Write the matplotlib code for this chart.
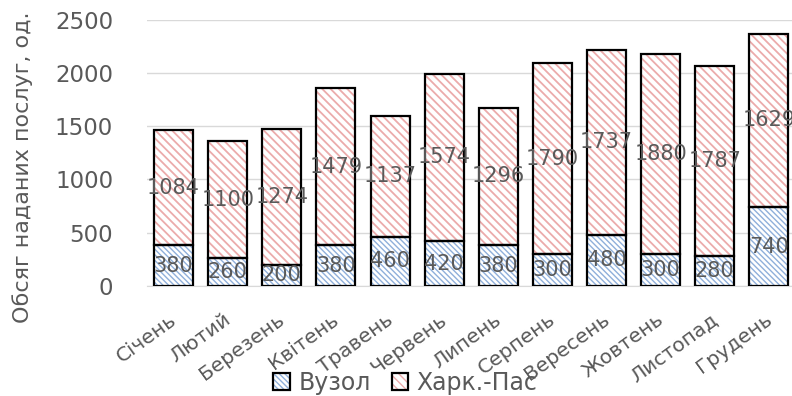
import matplotlib
matplotlib.use("Agg")
import matplotlib.pyplot as plt
from matplotlib.patches import Patch
from matplotlib.legend_handler import HandlerTuple
from matplotlib.transforms import ScaledTranslation
import numpy as np

months = ["Січень", "Лютий", "Березень", "Квітень", "Травень", "Червень",
          "Липень", "Серпень", "Вересень", "Жовтень", "Листопад", "Грудень"]
vuzol = [380, 260, 200, 380, 460, 420, 380, 300, 480, 300, 280, 740]
kharkpas = [1084, 1100, 1274, 1479, 1137, 1574, 1296, 1790, 1737, 1880, 1787, 1629]
yticks = [0, 500, 1000, 1500, 2000, 2500]

plt.rcParams["font.family"] = ["DejaVu Sans"]

fig = plt.figure(figsize=(7.92, 3.96), dpi=100)
ax = fig.add_axes([0.185, 0.278, 0.82, 0.672])

x = np.arange(len(months))
w = 0.72
blue_h = "#8FAFDA"
red_h = "#EBABAB"
txt = "#595959"
blue_pat = "\\\\\\\\\\\\"
red_pat = "\\\\\\\\"
blue_lw = 1.0
red_lw = 1.3

# hatched fills (hatch colour follows edgecolor), then black outlines on top
with plt.rc_context({"hatch.linewidth": blue_lw}):
    ax.bar(x, vuzol, w, color="white", edgecolor=blue_h, hatch=blue_pat, linewidth=0, zorder=2)
with plt.rc_context({"hatch.linewidth": red_lw}):
    ax.bar(x, kharkpas, w, bottom=vuzol, color="white", edgecolor=red_h, hatch=red_pat,
           linewidth=0, zorder=2)
ax.bar(x, vuzol, w, fill=False, edgecolor="black", linewidth=1.6, zorder=3)
ax.bar(x, kharkpas, w, bottom=vuzol, fill=False, edgecolor="black", linewidth=1.6, zorder=3)

for xi, v, k in zip(x, vuzol, kharkpas):
    ax.text(xi, v / 2, str(v), ha="center", va="center", fontsize=15, color=txt, zorder=4)
    ax.text(xi, v + k / 2, str(k), ha="center", va="center", fontsize=15, color=txt, zorder=4)

ax.set_xlim(-0.5, len(months) - 0.5)
ax.set_ylim(0, 2500)
ax.set_yticks(yticks)
ax.set_yticklabels([str(t) for t in yticks], fontsize=16.5, color=txt)
ax.yaxis.grid(True, color="#D9D9D9", linewidth=1)
ax.set_axisbelow(True)
for s in ["top", "right", "left"]:
    ax.spines[s].set_visible(False)
ax.spines["bottom"].set_color("#D9D9D9")
ax.tick_params(axis="y", length=0, pad=24)
ax.tick_params(axis="x", length=0, pad=26)
ax.set_xticks(x)
ax.set_xticklabels(months, rotation=36, ha="right", va="baseline", rotation_mode="anchor",
                   fontsize=14.5, color=txt)
shift = ScaledTranslation(4 / 100, 0, fig.dpi_scale_trans)
for lbl in ax.get_xticklabels():
    lbl.set_transform(lbl.get_transform() + shift)

fig.text(0.028, 0.578, "Обсяг наданих послуг, од.", rotation=90, ha="center",
         va="center", fontsize=16, color=txt)

with plt.rc_context({"hatch.linewidth": blue_lw}):
    h_blue = Patch(facecolor="white", edgecolor=blue_h, hatch=blue_pat, linewidth=0)
with plt.rc_context({"hatch.linewidth": red_lw}):
    h_red = Patch(facecolor="white", edgecolor=red_h, hatch=red_pat, linewidth=0)
outline1 = Patch(fill=False, edgecolor="black", linewidth=1.6)
outline2 = Patch(fill=False, edgecolor="black", linewidth=1.6)
leg = fig.legend([(h_blue, outline1), (h_red, outline2)], ["Вузол", "Харк.-Пас"],
                 handler_map={tuple: HandlerTuple(ndivide=1, pad=0)},
                 loc="center", bbox_to_anchor=(0.512, 0.033),
                 ncol=2, frameon=False, fontsize=17, handlelength=0.7, handleheight=0.7,
                 columnspacing=0.9, handletextpad=0.35, borderpad=0)
for t in leg.get_texts():
    t.set_color(txt)

fig.savefig("out.png", dpi=100)
